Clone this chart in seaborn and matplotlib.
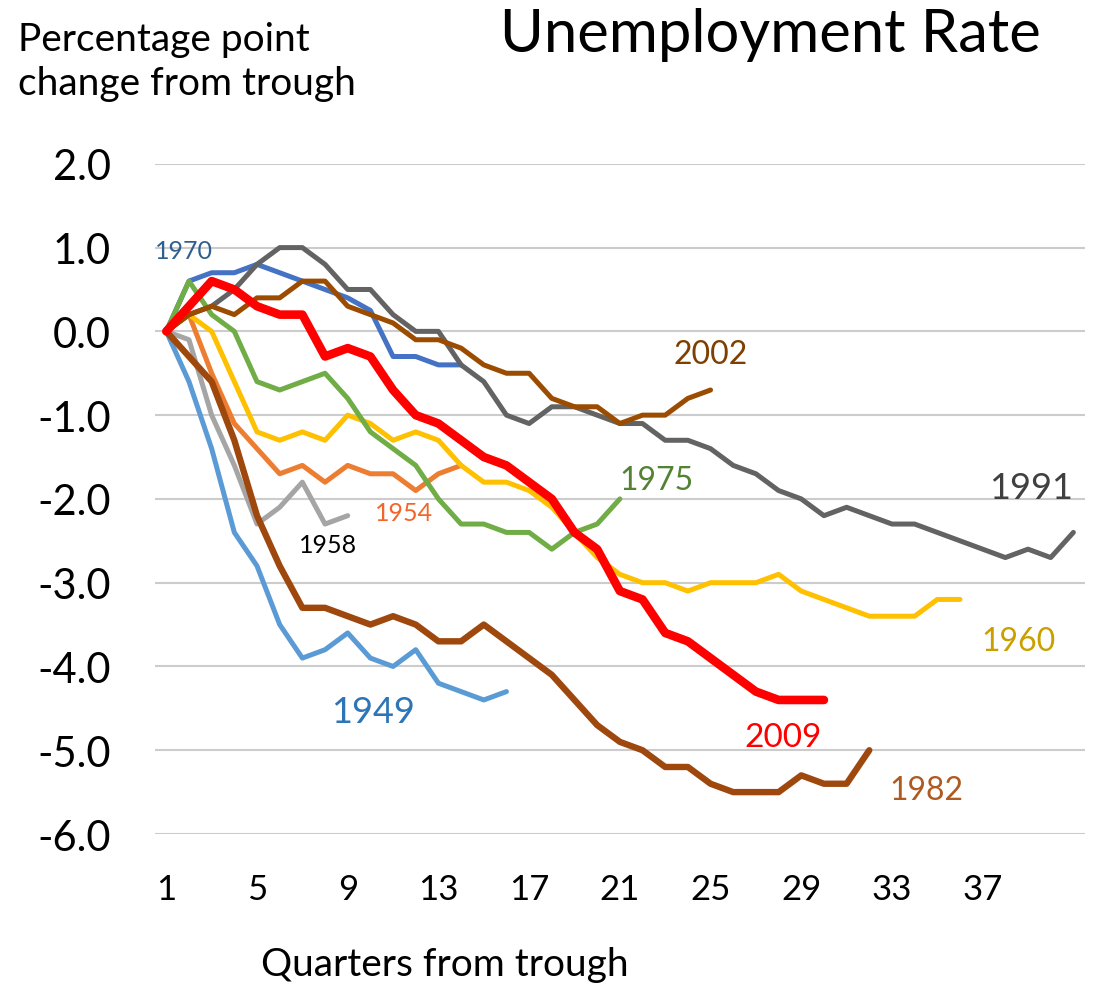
#!/usr/bin/env python3
import pandas as pd
import seaborn as sns
import matplotlib.pyplot as plt

# Unemployment rate, percentage point change from trough, by quarter
y1949 = [0, -0.6, -1.4, -2.4, -2.8, -3.5, -3.9, -3.8, -3.6, -3.9, -4.0, -3.8, -4.2, -4.3, -4.4, -4.3]
y1954 = [0, 0.2, -0.5, -1.1, -1.4, -1.7, -1.6, -1.8, -1.6, -1.7, -1.7, -1.9, -1.7, -1.6]
y1958 = [0, -0.1, -1.0, -1.6, -2.3, -2.1, -1.8, -2.3, -2.2]
y1960 = [0, 0.2, 0.0, -0.6, -1.2, -1.3, -1.2, -1.3, -1.0, -1.1, -1.3, -1.2, -1.3, -1.6, -1.8, -1.8,
         -1.9, -2.1, -2.4, -2.7, -2.9, -3.0, -3.0, -3.1, -3.0, -3.0, -3.0, -2.9, -3.1, -3.2, -3.3,
         -3.4, -3.4, -3.4, -3.2, -3.2]
y1970 = [0, 0.6, 0.7, 0.7, 0.8, 0.7, 0.6, 0.5, 0.4, 0.25, -0.3, -0.3, -0.4, -0.4]
y1975 = [0, 0.6, 0.2, 0.0, -0.6, -0.7, -0.6, -0.5, -0.8, -1.2, -1.4, -1.6, -2.0, -2.3, -2.3, -2.4,
         -2.4, -2.6, -2.4, -2.3, -2.0]
y1982 = [0, -0.3, -0.6, -1.3, -2.2, -2.8, -3.3, -3.3, -3.4, -3.5, -3.4, -3.5, -3.7, -3.7, -3.5, -3.7,
         -3.9, -4.1, -4.4, -4.7, -4.9, -5.0, -5.2, -5.2, -5.4, -5.5, -5.5, -5.5, -5.3, -5.4, -5.4, -5.0]
y1991 = [0, 0.2, 0.3, 0.5, 0.8, 1.0, 1.0, 0.8, 0.5, 0.5, 0.2, 0.0, 0.0, -0.4, -0.6, -1.0, -1.1,
         -0.9, -0.9, -1.0, -1.1, -1.1, -1.3, -1.3, -1.4, -1.6, -1.7, -1.9, -2.0, -2.2, -2.1, -2.2,
         -2.3, -2.3, -2.4, -2.5, -2.6, -2.7, -2.6, -2.7, -2.4]
y2002 = [0, 0.2, 0.3, 0.2, 0.4, 0.4, 0.6, 0.6, 0.3, 0.2, 0.1, -0.1, -0.1, -0.2, -0.4, -0.5, -0.5,
         -0.8, -0.9, -0.9, -1.1, -1.0, -1.0, -0.8, -0.7]
y2009 = [0, 0.3, 0.6, 0.5, 0.3, 0.2, 0.2, -0.3, -0.2, -0.3, -0.7, -1.0, -1.1, -1.3, -1.5, -1.6,
         -1.8, -2.0, -2.4, -2.6, -3.1, -3.2, -3.6, -3.7, -3.9, -4.1, -4.3, -4.4, -4.4, -4.4]

series = {'1949': y1949, '1954': y1954, '1958': y1958, '1960': y1960, '1970': y1970,
          '1975': y1975, '1982': y1982, '1991': y1991, '2002': y2002, '2009': y2009}
x_ticks = [1, 5, 9, 13, 17, 21, 25, 29, 33, 37]
y_ticks = [2, 1, 0, -1, -2, -3, -4, -5, -6]

# styles: line colour, line width, label colour, label size, label position
styles = {
    '1949': ('#5B9BD5', 3.6, '#2E75B6', 26, (10.1, -4.54)),
    '1954': ('#ED7D31', 3.6, '#F2652A', 18, (11.5, -2.16)),
    '1958': ('#A5A5A5', 3.6, '#000000', 18, (8.15, -2.54)),
    '1960': ('#FFC000', 3.6, '#C9A000', 23, (38.6, -3.70)),
    '1970': ('#4472C4', 3.6, '#2F5F8F', 18, (1.8, 0.97)),
    '1975': ('#70AD47', 3.6, '#548235', 23, (22.6, -1.78)),
    '1982': ('#9E480E', 4.6, '#AE5A21', 23, (34.5, -5.47)),
    '1991': ('#636363', 3.6, '#404040', 26, (39.15, -1.86)),
    '2002': ('#9C4C00', 3.6, '#7F3F00', 23, (25.0, -0.27)),
    '2009': ('#FF0000', 6.2, '#FF0000', 24, (28.2, -4.84)),
}

rows = []
for name, vals in series.items():
    for i, v in enumerate(vals):
        rows.append({'Year': name, 'Quarter': i + 1, 'Change': v})
df = pd.DataFrame(rows)

sns.set_style('white')
plt.rcParams['font.family'] = ['Lato', 'DejaVu Sans']

fig = plt.figure(figsize=(10.99, 9.87), dpi=100)
ax = fig.add_axes([0.141, 0.154, 0.846, 0.679])

for name in series:
    color, lw, lab_color, lab_size, pos = styles[name]
    sns.lineplot(data=df[df['Year'] == name], x='Quarter', y='Change', color=color,
                 linewidth=lw, ax=ax, solid_joinstyle='round', solid_capstyle='round')
    ax.text(pos[0], pos[1], name, color=lab_color, fontsize=lab_size, ha='center', va='center')

ax.set_xlim(0.5, 41.5)
ax.set_ylim(-6, 2)
ax.set_yticks(y_ticks)
ax.set_yticklabels([f'{v:.1f}' for v in y_ticks], fontsize=30)
ax.set_xticks(x_ticks)
ax.set_xticklabels([str(v) for v in x_ticks], fontsize=25)
ax.tick_params(axis='y', length=0, pad=32, labelcolor='black')
ax.tick_params(axis='x', length=0, pad=28, labelcolor='black')
ax.yaxis.grid(True, color='#CCCCCC', linewidth=1.5)
ax.set_axisbelow(True)
for s in ax.spines.values():
    s.set_visible(False)
ax.set_xlabel('')
ax.set_ylabel('')

fig.text(770 / 1099, 1 - 35 / 987, 'Unemployment Rate', fontsize=43, ha='center', va='center',
         color='black')
fig.text(18 / 1099, 1 - 62 / 987, 'Percentage point\nchange from trough', fontsize=28,
         ha='left', va='center', linespacing=1.25, color='black')
fig.text(445 / 1099, 1 - 965 / 987, 'Quarters from trough', fontsize=28, ha='center', va='center',
         color='black')

plt.savefig('out.png', dpi=100)
plt.close()
